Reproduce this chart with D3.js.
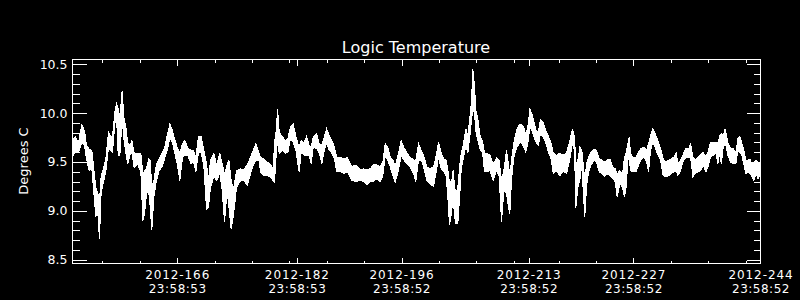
<!DOCTYPE html>
<html>
<head>
<meta charset="utf-8">
<script src="https://cdn.jsdelivr.net/npm/d3@7"></script>
<style>
  body { margin: 0; background: #000; }
  text { font-family: "DejaVu Sans", sans-serif; fill: #fff; }
</style>
</head>
<body>
<div id="chart"></div>
<script>
// Day of year 2012 (fractional) for each reading
var dayOfYear = [
  153.00,153.36,153.80,154.25,154.61,154.87,155.23,155.59,155.85,156.12,156.39,156.61,156.83,157.19,157.46,157.82,158.08,158.35,158.66,158.89,159.11,159.33,159.64,159.87,160.13,160.40,160.67,160.94,161.25,161.69,162.14,162.41,162.63,162.90,163.17,163.39,163.61,163.88,164.23,164.59,164.95,165.30,165.66,166.02,166.37,166.64,167.00,167.36,167.71,168.02,168.43,168.83,169.18,169.50,169.85,170.21,170.57,170.92,171.19,
  171.45,171.90,172.26,172.70,173.01,173.33,173.68,173.91,174.22,174.49,174.66,174.93,175.47,175.91,176.36,176.71,177.16,177.52,177.92,178.14,178.59,179.03,179.48,179.84,180.01,180.24,180.42,180.64,181.04,181.49,181.80,182.15,182.51,182.87,183.14,183.31,183.58,183.94,184.29,184.65,184.92,185.19,185.63,185.99,186.35,186.61,186.97,187.33,187.68,188.04,188.31,188.84,189.29,189.73,
  190.35,190.89,191.47,191.91,192.36,192.81,193.25,193.70,194.14,194.50,194.81,195.17,195.48,195.84,196.15,196.60,196.95,197.31,197.71,198.16,198.60,198.91,199.27,199.63,199.94,200.39,200.83,201.28,201.59,201.95,202.30,202.66,202.97,203.19,203.42,203.73,203.91,204.09,204.26,204.53,204.80,204.98,205.29,205.60,205.87,206.14,206.36,206.54,206.76,206.94,207.21,207.52,207.83,208.10,
  208.36,208.81,209.25,209.70,210.05,210.37,210.68,211.03,211.30,211.48,211.70,212.02,212.37,212.73,213.04,213.35,213.62,213.89,214.16,214.47,214.78,215.05,215.31,215.58,215.94,216.30,216.65,217.01,217.28,217.72,218.17,218.61,219.06,219.51,219.86,220.13,220.31,220.58,220.84,221.11,221.29,221.51,221.73,222.00,222.36,222.72,223.07,223.43,223.79,224.14,224.50,224.86,225.21,225.57,225.84,226.19,226.55,
  226.82,227.04,227.27,227.44,227.62,227.93,228.38,228.69,229.05,229.41,229.76,230.03,230.30,230.57,230.92,231.28,231.63,231.99,232.35,232.71,233.06,233.42,233.73,233.95,234.31,234.62,235.02,235.38,235.65,235.96,236.27,236.63,236.97,237.34,237.70,237.97,238.32,238.68,239.04,239.30,239.57,239.75,240.02,240.28,240.64,241.00,241.35,241.71,241.98,242.25,242.51,242.78,243.05,243.32,243.58,243.85,244.12,244.39,244.65,244.88,245.00
];

// upper edge of the noisy temperature trace (deg C)
var tempHigh = [
  9.72,9.76,9.70,9.88,9.82,9.67,9.63,9.62,9.43,9.24,9.18,9.11,9.35,9.45,9.53,9.81,9.77,9.76,10.01,10.10,10.05,9.96,10.23,9.96,9.86,9.69,9.67,9.72,9.59,9.59,9.59,9.38,9.41,9.43,9.53,9.52,9.24,9.31,9.48,9.53,9.59,9.64,9.77,9.89,9.82,9.74,9.65,9.59,9.69,9.72,9.64,9.62,9.62,9.55,9.76,9.76,9.62,9.48,9.31,
  9.52,9.59,9.47,9.59,9.48,9.38,9.47,9.52,9.31,9.21,9.28,9.41,9.43,9.42,9.47,9.53,9.62,9.69,9.60,9.55,9.53,9.50,9.47,9.43,9.69,9.82,10.04,9.81,9.76,9.72,9.74,9.86,9.89,9.76,9.69,9.65,9.72,9.70,9.76,9.67,9.65,9.76,9.79,9.69,9.67,9.74,9.84,9.77,9.72,9.65,9.55,9.55,9.53,9.55,
  9.45,9.47,9.42,9.43,9.42,9.43,9.47,9.47,9.45,9.50,9.69,9.65,9.55,9.52,9.45,9.59,9.72,9.65,9.59,9.55,9.52,9.52,9.69,9.62,9.57,9.45,9.43,9.45,9.55,9.70,9.59,9.53,9.52,9.42,9.28,9.31,9.42,9.24,9.18,9.24,9.48,9.59,9.69,9.84,9.77,9.96,10.13,10.45,10.27,10.03,9.94,9.76,9.72,9.59,
  9.59,9.57,9.48,9.54,9.52,9.31,9.41,9.62,9.48,9.35,9.52,9.70,9.82,9.88,9.88,9.86,9.77,9.86,10.04,9.99,9.89,9.81,9.82,9.93,9.91,9.82,9.76,9.69,9.59,9.57,9.59,9.57,9.59,9.72,9.84,9.76,9.48,9.52,9.65,9.62,9.48,9.31,9.48,9.55,9.60,9.63,9.62,9.53,9.52,9.50,9.52,9.53,9.45,9.43,9.38,9.41,9.38,
  9.55,9.60,9.69,9.76,9.59,9.55,9.55,9.60,9.64,9.65,9.62,9.69,9.77,9.84,9.79,9.72,9.64,9.53,9.50,9.52,9.53,9.55,9.59,9.48,9.52,9.57,9.64,9.63,9.69,9.55,9.52,9.55,9.57,9.60,9.55,9.60,9.70,9.70,9.70,9.70,9.77,9.79,9.77,9.84,9.70,9.64,9.64,9.59,9.74,9.76,9.69,9.62,9.52,9.52,9.53,9.48,9.50,9.52,9.50,9.48,9.47
];

// lower edge of the trace (deg C)
var tempLow = [
  9.56,9.60,9.60,9.70,9.67,9.53,9.41,9.43,9.18,8.95,8.97,8.71,9.19,9.31,9.40,9.65,9.62,9.60,9.89,9.96,9.57,9.57,9.93,9.74,9.59,9.48,9.57,9.59,9.44,9.48,9.40,8.90,8.97,9.18,9.21,9.04,8.80,9.14,9.31,9.41,9.45,9.53,9.62,9.74,9.70,9.60,9.48,9.31,9.55,9.57,9.57,9.48,9.50,9.40,9.60,9.60,9.45,9.02,9.04,
  9.24,9.35,9.31,9.38,9.21,8.89,9.21,9.04,8.81,8.94,9.04,9.24,9.31,9.31,9.26,9.35,9.47,9.52,9.52,9.40,9.36,9.36,9.35,9.30,9.29,9.57,9.72,9.59,9.62,9.59,9.60,9.74,9.70,9.62,9.48,9.40,9.60,9.57,9.57,9.57,9.48,9.65,9.64,9.59,9.48,9.60,9.69,9.62,9.59,9.53,9.40,9.40,9.38,9.40,
  9.31,9.30,9.31,9.30,9.27,9.30,9.30,9.33,9.30,9.36,9.55,9.52,9.45,9.36,9.29,9.42,9.57,9.52,9.48,9.45,9.38,9.30,9.52,9.52,9.45,9.31,9.27,9.25,9.38,9.55,9.43,9.40,9.36,9.14,8.85,9.01,9.14,8.94,8.87,8.87,9.18,9.42,9.55,9.67,9.59,9.77,9.93,10.06,9.99,9.81,9.72,9.62,9.60,9.40,
  9.40,9.41,9.31,9.41,9.35,8.89,9.21,9.18,9.04,8.97,9.31,9.55,9.64,9.69,9.70,9.65,9.60,9.69,9.86,9.82,9.74,9.69,9.67,9.79,9.76,9.69,9.60,9.53,9.38,9.41,9.36,9.41,9.38,9.53,9.69,9.62,9.03,9.24,9.31,9.48,9.21,8.94,9.24,9.40,9.47,9.52,9.50,9.40,9.38,9.35,9.38,9.36,9.33,9.30,9.14,9.28,9.24,
  9.14,9.24,9.52,9.55,9.41,9.40,9.40,9.47,9.53,9.55,9.50,9.40,9.62,9.70,9.65,9.57,9.52,9.36,9.35,9.36,9.38,9.40,9.41,9.36,9.41,9.50,9.55,9.55,9.55,9.35,9.38,9.40,9.41,9.47,9.40,9.45,9.55,9.57,9.59,9.48,9.60,9.48,9.65,9.70,9.57,9.50,9.48,9.48,9.62,9.60,9.57,9.47,9.38,9.40,9.38,9.35,9.31,9.38,9.33,9.35,9.40
];

// labelled x ticks (end of day, 23:58:5x)
var xTickDays = [166.9992, 182.9992, 196.9992, 213.9992, 227.9992, 244.9992];
var xTickDates = ["2012-166", "2012-182", "2012-196", "2012-213", "2012-227", "2012-244"];
var xTickTimes = ["23:58:53", "23:58:53", "23:58:52", "23:58:52", "23:58:52", "23:58:52"];
var xMinorDays = [157, 162, 172, 177, 182, 187, 192, 202, 207, 212, 218, 223, 233, 238, 243];

var yTicks = [8.5, 9.0, 9.5, 10.0, 10.5];
var yMinorTicks = [8.6, 8.7, 8.8, 8.9, 9.1, 9.2, 9.3, 9.4, 9.6, 9.7, 9.8, 9.9, 10.1, 10.2, 10.3, 10.4];

var svgWidth = 800;
var svgHeight = 300;

var margin = { top: 59, right: 40, bottom: 37, left: 72 };
var width = svgWidth - margin.left - margin.right;
var height = svgHeight - margin.top - margin.bottom;

var svg = d3.select("#chart")
  .append("svg")
  .attr("width", svgWidth)
  .attr("height", svgHeight)
  .style("background", "#000");

var chartGroup = svg.append("g")
  .attr("transform", `translate(${margin.left + 0.5}, ${margin.top + 0.5})`);

// scales
var xScale = d3.scaleLinear()
  .domain([153.0, 245.0])
  .range([0, width]);

var yScale = d3.scaleLinear()
  .domain([8.46, 10.55])
  .range([height, 0]);

// clip for the trace
svg.append("defs").append("clipPath")
  .attr("id", "plotClip")
  .append("rect")
  .attr("width", width)
  .attr("height", height);

// temperature trace as a filled band between low and high edges
var n = Math.min(dayOfYear.length, tempHigh.length, tempLow.length);
var idx = d3.range(n);

var band = d3.area()
  .x(i => xScale(dayOfYear[i]))
  .y0(i => yScale(tempLow[i]))
  .y1(i => yScale(tempHigh[i]));

chartGroup.append("path")
  .datum(idx)
  .attr("clip-path", "url(#plotClip)")
  .attr("d", band)
  .attr("fill", "#fff")
  .attr("stroke", "#fff")
  .attr("stroke-width", 1)
  .attr("shape-rendering", "crispEdges");

// helper to style axis groups white and drop the domain path
function styleAxis(g) {
  g.select(".domain").remove();
  g.selectAll("line").attr("stroke", "#fff").attr("shape-rendering", "crispEdges");
  g.selectAll("text").attr("fill", "#fff");
}

// bottom axis: major ticks, labels added below as two separate lines
var bottomAxis = chartGroup.append("g")
  .attr("transform", `translate(0, ${height})`)
  .call(d3.axisBottom(xScale).tickValues(xTickDays).tickSize(-6).tickFormat(""))
  .call(styleAxis);

bottomAxis.selectAll(".tick text").remove();
bottomAxis.selectAll(".tick").each(function(d, i) {
  var tick = d3.select(this);
  tick.append("text")
    .attr("y", 15)
    .attr("text-anchor", "middle")
    .attr("font-size", "12px")
    .attr("letter-spacing", "0.9px")
    .text(xTickDates[i]);
  tick.append("text")
    .attr("y", 29.5)
    .attr("text-anchor", "middle")
    .attr("font-size", "12px")
    .attr("letter-spacing", "0.5px")
    .text(xTickTimes[i]);
});

chartGroup.append("g")
  .attr("transform", `translate(0, ${height})`)
  .call(d3.axisBottom(xScale).tickValues(xMinorDays).tickSize(-3).tickFormat(""))
  .call(styleAxis);

// top axis mirrors the bottom one
chartGroup.append("g")
  .call(d3.axisTop(xScale).tickValues(xTickDays).tickSize(-6).tickFormat(""))
  .call(styleAxis);

chartGroup.append("g")
  .call(d3.axisTop(xScale).tickValues(xMinorDays).tickSize(-3).tickFormat(""))
  .call(styleAxis);

// left axis
chartGroup.append("g")
  .call(d3.axisLeft(yScale).tickValues(yTicks).tickSize(-14).tickPadding(5).tickFormat(d3.format(".1f")))
  .call(styleAxis)
  .selectAll("text")
  .attr("font-size", "12.5px");

chartGroup.append("g")
  .call(d3.axisLeft(yScale).tickValues(yMinorTicks).tickSize(-7).tickFormat(""))
  .call(styleAxis);

// right axis
chartGroup.append("g")
  .attr("transform", `translate(${width}, 0)`)
  .call(d3.axisRight(yScale).tickValues(yTicks).tickSize(-14).tickFormat(""))
  .call(styleAxis);

chartGroup.append("g")
  .attr("transform", `translate(${width}, 0)`)
  .call(d3.axisRight(yScale).tickValues(yMinorTicks).tickSize(-7).tickFormat(""))
  .call(styleAxis);

// plot frame
chartGroup.append("rect")
  .attr("width", width)
  .attr("height", height)
  .attr("fill", "none")
  .attr("stroke", "#fff")
  .attr("shape-rendering", "crispEdges");

// title
svg.append("text")
  .attr("x", margin.left + width / 2)
  .attr("y", 53)
  .attr("text-anchor", "middle")
  .attr("font-size", "16px")
  .text("Logic Temperature");

// y axis label
svg.append("text")
  .attr("transform", `translate(28, ${margin.top + height / 2}) rotate(-90)`)
  .attr("text-anchor", "middle")
  .attr("font-size", "13px")
  .text("Degrees C");
</script>
</body>
</html>
